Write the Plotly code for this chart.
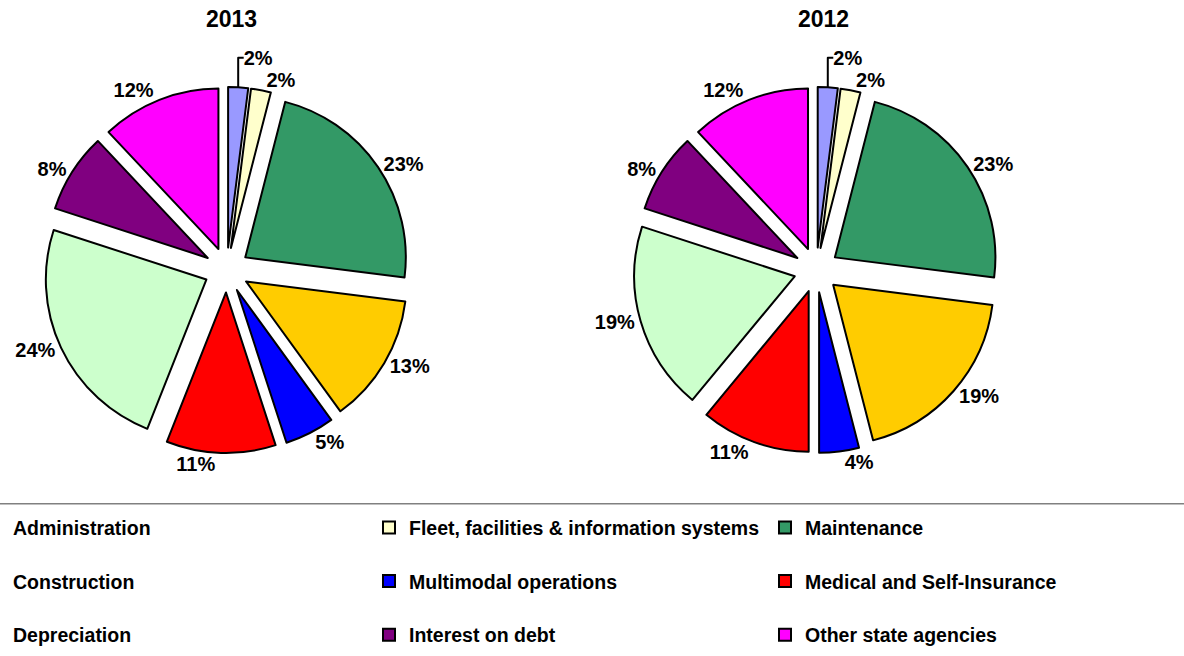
import plotly.graph_objects as go

categories = [
    "Administration",
    "Fleet, facilities & information systems",
    "Maintenance",
    "Construction",
    "Multimodal operations",
    "Medical and Self-Insurance",
    "Depreciation",
    "Interest on debt",
    "Other state agencies",
]
values_2013 = [2, 2, 23, 13, 5, 11, 24, 8, 12]
values_2012 = [2, 2, 23, 19, 4, 11, 19, 8, 12]
years = ["2013", "2012"]
colors = ["#9999FF", "#FFFFCC", "#339966", "#FFCC00", "#0000FF",
          "#FF0000", "#CCFFCC", "#800080", "#FF00FF"]

FONT = "Liberation Sans, Arial, sans-serif"
W, H = 1184, 656
MB = 156
GH = H - MB

# legend labels get an empty second line so rows are spaced like the original
legend_labels = [c + "<br> " for c in categories]

def pie_domain(cx, cy, half):
    return dict(x=[(cx - half) / W, (cx + half) / W],
                y=[1 - (cy + half) / GH, 1 - (cy - half) / GH])

fig = go.Figure()
for vals, dom in [(values_2013, pie_domain(226.7, 270, 183)),
                  (values_2012, pie_domain(816.3, 270, 183))]:
    fig.add_trace(go.Pie(
        labels=legend_labels,
        values=vals,
        sort=False,
        direction="clockwise",
        rotation=0,
        pull=0.14,
        domain=dom,
        marker=dict(colors=colors, line=dict(color="black", width=2)),
        textposition="outside",
        texttemplate="%{percent:.0%}",
        outsidetextfont=dict(family=FONT, size=20, color="black", weight="bold"),
        hoverinfo="label+percent",
    ))

title_x = [231 / W, 823 / W]
for yr, tx in zip(years, title_x):
    fig.add_annotation(text=yr, x=tx, y=1 - 18.5 / GH, xref="paper", yref="paper",
                       xanchor="center", yanchor="middle", showarrow=False,
                       font=dict(family=FONT, size=23, color="black", weight="bold"))

fig.add_shape(type="line", xref="paper", yref="paper", x0=0, x1=1,
              y0=1 - 503.8 / GH, y1=1 - 503.8 / GH,
              line=dict(color="#808080", width=1.5))

fig.update_layout(
    width=W, height=H,
    margin=dict(l=0, r=0, t=0, b=MB, autoexpand=False),
    paper_bgcolor="white", plot_bgcolor="white",
    showlegend=True,
    legend=dict(
        orientation="h",
        x=-27 / W, xanchor="left",
        y=1 - 508.2 / GH, yanchor="top",
        entrywidth=351, entrywidthmode="pixels",
        valign="top",
        font=dict(family=FONT, size=19.5, color="black", weight="bold"),
        bgcolor="rgba(0,0,0,0)",
        traceorder="normal",
    ),
)

fig.write_html("out.html",
               config={"displayModeBar": False},
               post_script="document.body.style.margin='0';document.body.style.overflow='hidden';")
